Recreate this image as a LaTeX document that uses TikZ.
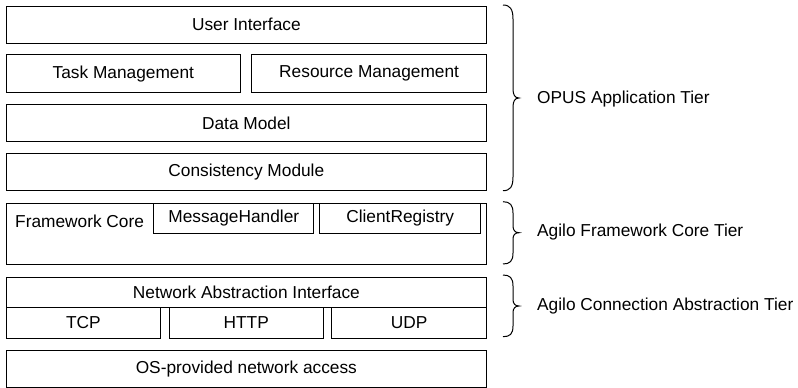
\documentclass[tikz,border=0pt]{standalone}
\usepackage{fontspec}
\setmainfont{Liberation Sans}
\begin{document}
\begin{tikzpicture}[x=1pt,y=-1pt,
  box/.style={draw=black,line width=1pt,fill=white,inner sep=0pt,anchor=north west,font=\fontsize{17.3}{20}\selectfont},
  lbl/.style={inner sep=0pt,anchor=west,font=\fontsize{17.3}{20}\selectfont},
  brc/.style={draw=black,line width=1pt}]
\useasboundingbox (0,0) rectangle (798,388);
% OPUS application tier
\node[box,minimum width=480.3pt,minimum height=37pt] (ui) at (5.7,5.7) {User Interface};
\node[box,minimum width=234.3pt,minimum height=37.7pt] (task) at (5.7,54.3) {Task Management};
\node[box,minimum width=234.7pt,minimum height=37.7pt] (res) at (251.3,54.3) {Resource Management};
\node[box,minimum width=480.3pt,minimum height=37pt] (dm) at (5.7,104) {Data Model};
\node[box,minimum width=480.3pt,minimum height=37.3pt] (cm) at (5.7,153) {Consistency Module};
% Framework core tier
\node[box,minimum width=480.3pt,minimum height=61.3pt] (fc) at (5.7,202.7) {};
\node[lbl] (fclbl) at (15,221) {Framework Core};
\node[box,minimum width=160pt,minimum height=30.6pt] (mh) at (153.3,202.7) {MessageHandler};
\node[box,minimum width=160.7pt,minimum height=30.6pt] (cr) at (319.3,202.7) {ClientRegistry};
% Connection abstraction tier
\node[box,minimum width=480.3pt,minimum height=30pt] (nai) at (5.7,276.7) {Network Abstraction Interface};
\node[box,minimum width=154.3pt,minimum height=31pt] (tcp) at (5.7,306.7) {TCP};
\node[box,minimum width=154pt,minimum height=31pt] (http) at (168.7,306.7) {HTTP};
\node[box,minimum width=154.7pt,minimum height=31pt] (udp) at (331.3,306.7) {UDP};
% OS
\node[box,minimum width=480.3pt,minimum height=36.7pt] (os) at (5.7,350) {OS-provided network access};
% braces
\draw[brc] (503,5) .. controls (510,5) and (513,9) .. (513,19) -- (513,89)
  .. controls (513,95) and (515,98) .. (519,98)
  .. controls (515,98) and (513,101) .. (513,107) -- (513,177)
  .. controls (513,187) and (510,190.7) .. (503,190.7);
\node[lbl] (opus) at (537,99) {OPUS Application Tier};
\draw[brc] (503,201.7) .. controls (510,201.7) and (513,205) .. (513,213) -- (513,226)
  .. controls (513,230) and (515,232.7) .. (519,232.7)
  .. controls (515,232.7) and (513,235) .. (513,239) -- (513,253)
  .. controls (513,261) and (510,264) .. (503,264);
\node[lbl] (agfc) at (537,232.5) {Agilo Framework Core Tier};
\draw[brc] (503,275) .. controls (510,275) and (513,278) .. (513,286) -- (513,299.5)
  .. controls (513,303.5) and (515,306) .. (519,306)
  .. controls (515,306) and (513,308.5) .. (513,312.5) -- (513,326)
  .. controls (513,334) and (510,336.7) .. (503,336.7);
\node[lbl] (agca) at (537,306) {Agilo Connection Abstraction Tier};
\end{tikzpicture}
\end{document}
